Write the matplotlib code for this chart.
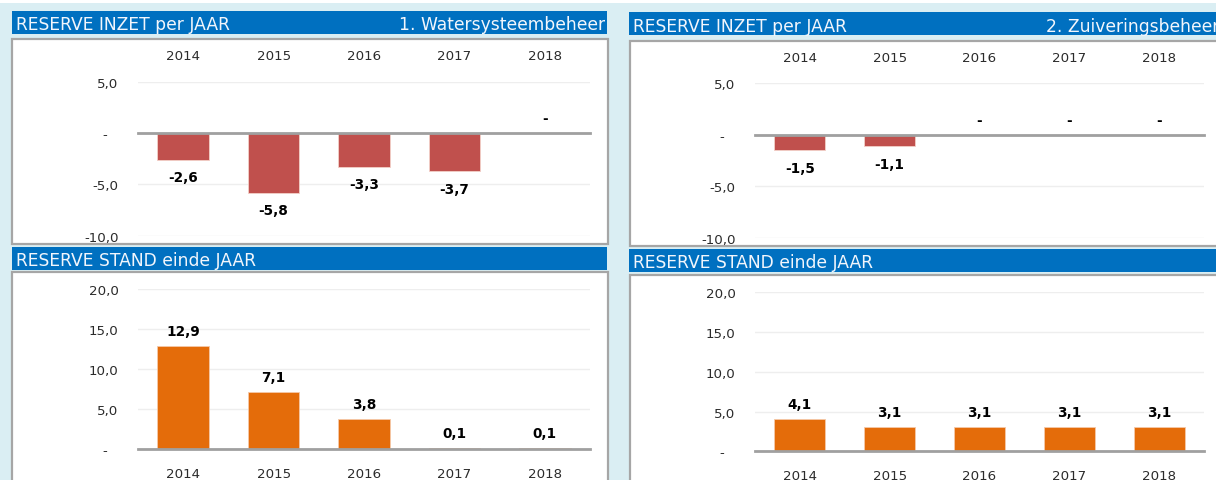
import matplotlib
matplotlib.use('Agg')
import matplotlib.pyplot as plt
from matplotlib.patches import Rectangle
from matplotlib.transforms import ScaledTranslation

W, H = 1216, 481

years = ['2014', '2015', '2016', '2017', '2018']
inzet_ws = [-2.6, -5.8, -3.3, -3.7, 0.0]
inzet_zb = [-1.5, -1.1, 0.0, 0.0, 0.0]
stand_ws = [12.9, 7.1, 3.8, 0.1, 0.1]
stand_zb = [4.1, 3.1, 3.1, 3.1, 3.1]
inzet_ticks = [5, 0, -5, -10]
stand_ticks = [20, 15, 10, 5, 0]
panel_titles = ['1. Watersysteembeheer', '2. Zuiveringsbeheer']
title_top = 'RESERVE INZET per JAAR'
title_bot = 'RESERVE STAND einde JAAR'

BG = '#DAEEF3'
BAR_BLUE = '#0070C0'
RED = '#C0504D'
ORANGE = '#E46C0A'
BORDER = '#A6A6A6'
TXT = '#2B2B2B'

plt.rcParams['font.family'] = ['DejaVu Sans']

fig = plt.figure(figsize=(W / 100, H / 100), dpi=100, facecolor=BG)


def rect(x0, y0, x1, y1, **kw):
    fig.patches.append(Rectangle((x0 / W, 1 - y1 / H), (x1 - x0) / W, (y1 - y0) / H,
                                 transform=fig.transFigure, figure=fig, zorder=-10, **kw))


def fx(x):
    return x / W


def fy(y):
    return 1 - y / H


def fmt(v):
    return '-' if v == 0 else f'{v:.1f}'.replace('.', ',')


# top white strip
rect(0, 0, W, 4, facecolor='white', edgecolor='none')


def title_bar(x0, y0, x1, y1, left, right=None):
    rect(x0, y0, x1, y1, facecolor=BAR_BLUE, edgecolor='none')
    yc = fy((y0 + y1) / 2)
    fig.text(fx(x0 + 4), yc, left, color='#F2F6FC', fontsize=12.3, ha='left', va='center_baseline')
    if right:
        fig.text(fx(x1 - 2), yc, right, color='#F2F6FC', fontsize=12.3, ha='right', va='center_baseline')


def box(x0, y0, x1, y1):
    rect(x0, y0, x1, y1, facecolor='white', edgecolor=BORDER, linewidth=1.6)


def chart(x0, x1, ytop, ybot, values, ticks, color, top_labels, label_pad):
    ax = fig.add_axes([fx(x0), fy(ybot), fx(x1 - x0), (ybot - ytop) / H])
    ax.set_facecolor('none')
    ax.set_zorder(5)
    xs = list(range(len(years)))
    ax.bar(xs, values, width=0.57, color=color, edgecolor='#F3D0C8' if color == RED else '#F5C9A8',
           linewidth=0.6, zorder=3)
    ax.set_xlim(-0.5, len(years) - 0.5)
    ax.set_ylim(min(ticks), max(ticks))
    ax.set_yticks(ticks)
    ax.set_yticklabels([fmt(t) for t in ticks])
    ax.set_xticks(xs)
    ax.set_xticklabels(years)
    if top_labels:
        ax.xaxis.tick_top()
    ax.tick_params(axis='both', length=0, labelsize=9.6, labelcolor=TXT)
    ax.tick_params(axis='y', pad=14)
    ax.tick_params(axis='x', pad=label_pad)
    for s in ax.spines.values():
        s.set_visible(False)
    ax.yaxis.grid(True, color='#EEEEEE', linewidth=1.0, zorder=0)
    ax.set_axisbelow(True)
    ax.axhline(0, color='#A0A0A0', linewidth=2.0, zorder=4, clip_on=False)
    for x, v in zip(xs, values):
        if v < 0:
            ax.annotate(fmt(v), (x, v), xytext=(0, -17.5), textcoords='offset pixels',
                        ha='center', va='center', fontsize=9.8, fontweight='bold', color='black')
        else:
            ax.annotate(fmt(v), (x, v), xytext=(0, 15), textcoords='offset pixels',
                        ha='center', va='center', fontsize=9.8, fontweight='bold', color='black')
    # zero label shifted left like accounting format
    for t, tick in zip(ticks, ax.yaxis.get_major_ticks()):
        if t == 0:
            tick.label1.set_transform(tick.label1.get_transform() +
                                      ScaledTranslation(-11 / 100, 0, fig.dpi_scale_trans))
    return ax


# left panel
title_bar(12, 12, 607, 35, title_top, panel_titles[0])
box(12, 40, 608, 245)
title_bar(12, 248, 607, 271, title_bot)
box(12, 273, 608, 500)

# right panel
title_bar(629, 13, 1221, 36, title_top, panel_titles[1])
box(630, 42, 1230, 247)
title_bar(629, 250, 1230, 273, title_bot)
box(630, 276, 1230, 500)

chart(138, 590, 82.7, 236.7, inzet_ws, inzet_ticks, RED, True, 14)
chart(755, 1204, 84.3, 239, inzet_zb, inzet_ticks, RED, True, 14)
chart(138, 590, 290, 450, stand_ws, stand_ticks, ORANGE, False, 13)
chart(755, 1204, 293.3, 452.3, stand_zb, stand_ticks, ORANGE, False, 13)

fig.savefig('out.png', dpi=100, facecolor=BG)
